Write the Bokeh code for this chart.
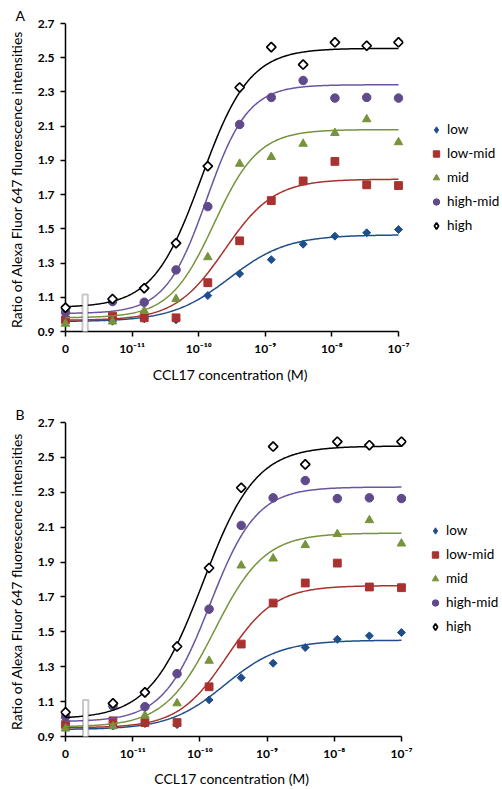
import numpy as np
from bokeh.plotting import figure
from bokeh.models import (Range1d, FixedTicker, Span, BoxAnnotation, Title,
                          Legend, LegendItem)
from bokeh.layouts import column
from bokeh.embed import file_html
from bokeh.resources import INLINE

# ---------------- data ----------------
concentration_M = [0, 5.08e-12, 1.52e-11, 4.57e-11, 1.37e-10, 4.12e-10,
                   1.23e-9, 3.70e-9, 1.11e-8, 3.33e-8, 1.0e-7]
ZERO_POSITION = 1e-12   # where "0" sits on the broken log axis

series_names = ["low", "low-mid", "mid", "high-mid", "high"]
low      = [0.960, 0.960, 0.974, 0.968, 1.110, 1.237, 1.320, 1.410, 1.457, 1.477, 1.496]
low_mid  = [0.968, 0.990, 0.980, 0.980, 1.185, 1.430, 1.665, 1.780, 1.894, 1.757, 1.753]
mid      = [0.945, 0.958, 1.020, 1.090, 1.334, 1.880, 1.920, 1.997, 2.060, 2.140, 2.006]
high_mid = [1.013, 1.075, 1.071, 1.260, 1.630, 2.110, 2.268, 2.367, 2.264, 2.268, 2.264]
high     = [1.039, 1.090, 1.153, 1.416, 1.866, 2.326, 2.562, 2.460, 2.590, 2.570, 2.590]
series_values = [low, low_mid, mid, high_mid, high]

# fitted dose-response (4PL) parameters, panel A and panel B
fitA_bottom  = [0.958, 0.965, 0.980, 1.005, 1.040]
fitA_top     = [1.465, 1.790, 2.080, 2.342, 2.555]
fitA_logec50 = [-9.54, -9.61, -9.77, -9.88, -9.96]
fitA_hill    = [1.00, 1.17, 1.30, 1.40, 1.20]

fitB_bottom  = [0.940, 0.950, 0.955, 0.985, 1.000]
fitB_top     = [1.452, 1.765, 2.066, 2.330, 2.565]
fitB_logec50 = [-9.63, -9.60, -9.78, -9.85, -9.955]
fitB_hill    = [1.05, 1.20, 1.17, 1.25, 1.10]

x_ticks = [1e-12, 1e-11, 1e-10, 1e-9, 1e-8, 1e-7]
x_tick_labels = ["0", "10⁻¹¹", "10⁻¹⁰", "10⁻⁹", "10⁻⁸", "10⁻⁷"]
y_ticks = [0.9, 1.1, 1.3, 1.5, 1.7, 1.9, 2.1, 2.3, 2.5, 2.7]

x_title = "CCL17 concentration  (M)"
y_title = "Ratio of Alexa Fluor 647 fluorescence  intensities"

# ---------------- styles ----------------
FONT = "Lato"
marker_styles = [
    dict(marker="square", size=5.6, angle=np.pi / 4, fill_color="#1F4E8C", line_color="#1F4E8C"),
    dict(marker="square", size=7.8, angle=0.0, fill_color="#A8322F", line_color="#A8322F"),
    dict(marker="triangle", size=8.5, angle=0.0, fill_color="#77933C", line_color="#77933C"),
    dict(marker="circle", size=8.5, angle=0.0, fill_color="#5F4B8C", line_color="#5F4B8C"),
    dict(marker="square", size=6.6, angle=np.pi / 4, fill_color="white", line_color="black", line_width=1.7),
]
# legend swatches (legend glyphs ignore rotation, so diamonds use the diamond marker);
# drawn small underneath the real markers so they stay hidden in the plot
legend_styles = [
    dict(marker="diamond", fill_color="#1F4E8C", line_color="#1F4E8C"),
    dict(marker="square", fill_color="#A8322F", line_color="#A8322F"),
    dict(marker="triangle", fill_color="#77933C", line_color="#77933C"),
    dict(marker="circle", fill_color="#5F4B8C", line_color="#5F4B8C"),
    dict(marker="diamond", fill_color="white", line_color="black", line_width=1.7),
]
line_colors = ["#1F4E8C", "#A8322F", "#77933C", "#6A55A0", "black"]


def make_panel(letter, fit, frame_w, frame_h, b_left, b_top, b_bottom, b_right,
               break_x, break_y, xtitle_offset, xtitle_standoff, legend_loc):
    bottoms, tops, logec, hills = fit
    ext = 0.075
    p = figure(x_axis_type="log",
               x_range=Range1d(10 ** (-12 - ext), 10 ** (-7 + ext)),
               y_range=Range1d(0.9, 2.7),
               frame_width=frame_w, frame_height=frame_h,
               min_border_left=b_left, min_border_top=b_top,
               min_border_bottom=b_bottom, min_border_right=b_right,
               output_backend="svg", toolbar_location=None)
    p.xgrid.visible = False
    p.ygrid.visible = False
    p.outline_line_color = None
    p.background_fill_color = "white"
    p.border_fill_color = "white"

    # x axis
    xa = p.xaxis[0]
    xa.ticker = FixedTicker(ticks=x_ticks)
    xa.major_label_overrides = {t: lab for t, lab in zip(x_ticks, x_tick_labels)}
    xa.bounds = (x_ticks[0], x_ticks[-1])
    xa.axis_line_width = 1.5
    xa.axis_line_color = "black"
    xa.major_tick_line_width = 1.5
    xa.major_tick_out = 5
    xa.major_tick_in = 0
    xa.minor_tick_line_color = None
    xa.major_label_standoff = 4
    xa.major_label_text_font = FONT
    xa.major_label_text_font_size = "12px"
    xa.major_label_text_font_style = "bold"
    xa.major_label_text_color = "black"

    # y axis (its line is drawn at the "0" position by a Span)
    ya = p.yaxis[0]
    ya.ticker = FixedTicker(ticks=y_ticks)
    ya.axis_line_color = None
    ya.major_tick_line_width = 1.5
    ya.major_tick_in = 5
    ya.major_tick_out = 0
    ya.minor_tick_line_color = None
    ya.major_label_standoff = 6
    ya.major_label_text_font = FONT
    ya.major_label_text_font_size = "12px"
    ya.major_label_text_font_style = "bold"
    ya.major_label_text_color = "black"
    ya.axis_label = y_title
    ya.axis_label_standoff = 10
    ya.axis_label_text_font = FONT
    ya.axis_label_text_font_size = "14px"
    ya.axis_label_text_font_style = "normal"
    ya.axis_label_text_color = "black"

    yline = Span(location=ZERO_POSITION, dimension="height", line_color="black",
                 line_width=1.5, level="underlay")
    p.add_layout(yline)

    xs = [ZERO_POSITION if c == 0 else c for c in concentration_M]
    curve_x = np.logspace(-12, -7, 300)
    items = []
    for i, name in enumerate(series_names):
        curve_y = bottoms[i] + (tops[i] - bottoms[i]) / (1 + 10 ** ((logec[i] - np.log10(curve_x)) * hills[i]))
        p.line(curve_x, curve_y, line_color=line_colors[i], line_width=1.5)
        swatch = p.scatter(xs, series_values[i], size=3, **legend_styles[i])
        p.scatter(xs, series_values[i], **marker_styles[i])
        items.append(LegendItem(label=name, renderers=[swatch]))

    legend = Legend(items=items, location=legend_loc, padding=0, margin=0, spacing=4,
                    glyph_width=16, glyph_height=19, label_height=20,
                    label_standoff=3, label_text_font=FONT,
                    label_text_font_size="13.5px", label_text_color="black",
                    background_fill_alpha=0, border_line_color=None)
    p.add_layout(legend, "right")

    # axis break marker
    brk = BoxAnnotation(left=break_x[0], right=break_x[1], bottom=break_y[0], top=break_y[1],
                        fill_color="white", fill_alpha=1.0, line_color="#4A4A4A",
                        line_width=2, level="annotation")
    p.add_layout(brk)

    # x title below the axis
    xt = Title(text=x_title, align="center", offset=xtitle_offset, standoff=xtitle_standoff,
               text_font=FONT, text_font_size="14px", text_font_style="normal",
               text_color="black")
    p.add_layout(xt, "below")

    # panel letter
    lt = Title(text=letter, align="left", offset=-45, standoff=0,
               text_font=FONT, text_font_size="14px", text_font_style="normal",
               text_color="black")
    p.add_layout(lt, "above")
    return p


pA = make_panel("A", (fitA_bottom, fitA_top, fitA_logec50, fitA_hill),
                frame_w=343, frame_h=308, b_left=59, b_top=23, b_bottom=67, b_right=100,
                break_x=(10 ** -11.745, 10 ** -11.665), break_y=(0.865, 1.116),
                xtitle_offset=21, xtitle_standoff=10, legend_loc=(25, 96))
pB = make_panel("B", (fitB_bottom, fitB_top, fitB_logec50, fitB_hill),
                frame_w=346, frame_h=314, b_left=60, b_top=24, b_bottom=52, b_right=96,
                break_x=(10 ** -11.74, 10 ** -11.66), break_y=(0.86, 1.109),
                xtitle_offset=7, xtitle_standoff=9, legend_loc=(21, 100))

layout = column(pA, pB)
open("out.html", "w").write(file_html(layout, INLINE))
